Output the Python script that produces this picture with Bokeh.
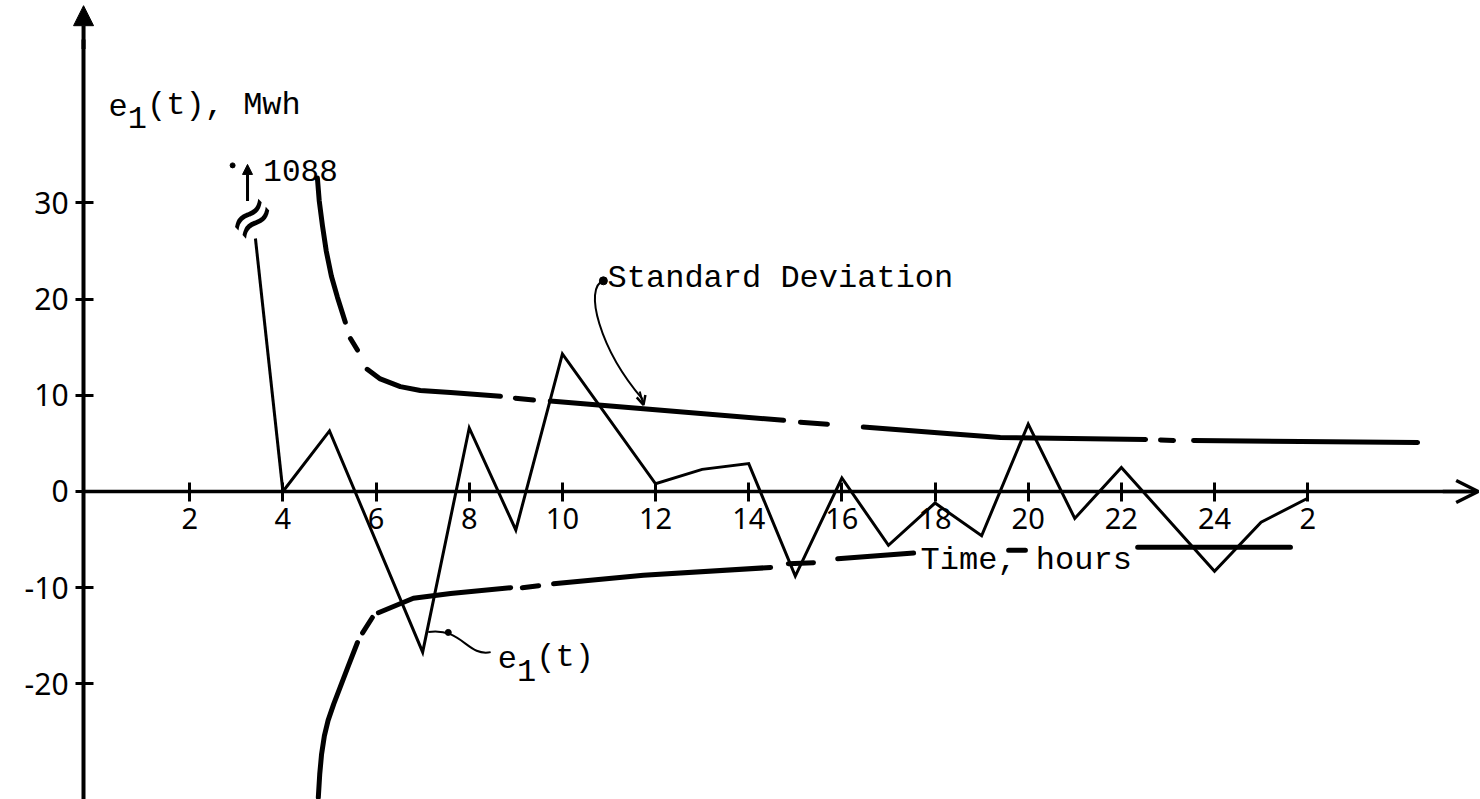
import math
from bokeh.plotting import figure
from bokeh.models import Range1d, FixedTicker, Arrow, NormalHead, OpenHead
from bokeh.core.properties import value
from bokeh.embed import file_html
from bokeh.resources import INLINE

nan = float("nan")

# ---------------- data ----------------
# e1(t): error in Mwh at each hour (the hour-3 value, 1088, is off scale)
e1_hours = [4, 5, 7, 8, 9, 10, 12, 13, 14, 15, 16, 17, 18, 19, 20, 21, 22, 24, 25, 26]
e1_mwh = [0.0, 6.3, -16.7, 6.6, -4.0, 14.3, 0.8, 2.3, 2.9, -8.8, 1.4, -5.6,
          -1.2, -4.6, 7.0, -2.8, 2.5, -8.3, -3.2, -0.7]
e1_offscale_label = "1088"

# standard deviation band: hand-drawn pen strokes, separated by NaN (pen lifts)
sd_upper_hours = [4.74, 4.78, 4.85, 4.93, 5.04, 5.17, 5.34, nan, 5.45, 5.60, nan,
                  5.81, 6.09, 6.52, 6.95, 7.60, 8.67, nan, 8.99, 9.38, nan,
                  9.74, 11.74, 14.75, nan, 15.11, 15.69, nan,
                  16.46, 18.33, 19.40, 22.52, nan, 22.84, 23.12, nan,
                  23.55, 25.85, 28.36]
sd_upper_mwh = [32.6, 30.2, 27.6, 25.0, 22.4, 20.2, 17.6, nan, 15.9, 14.7, nan,
                12.7, 11.7, 10.9, 10.5, 10.3, 9.9, nan, 9.7, 9.5, nan,
                9.4, 8.6, 7.4, nan, 7.2, 7.0, nan,
                6.7, 6.0, 5.6, 5.4, nan, 5.35, 5.3, nan,
                5.3, 5.2, 5.1]

sd_lower_hours = [4.76, 4.79, 4.83, 4.89, 4.97, 5.09, 5.24, 5.39, 5.60, nan, 5.71, 5.92, nan,
                  6.05, 6.80, 7.60, 8.89, nan, 9.14, 9.49, nan,
                  9.81, 11.74, 14.47, nan, 14.85, 15.39, nan,
                  15.91, 17.54, nan, 19.58, 19.94, nan, 22.35, 25.63]
sd_lower_mwh = [-31.8, -29.4, -27.3, -25.4, -23.8, -22.1, -20.2, -18.3, -15.7, nan, -14.7, -13.1, nan,
                -12.6, -11.1, -10.6, -10.0, nan, -10.0, -9.8, nan,
                -9.6, -8.7, -7.9, nan, -7.5, -7.4, nan,
                -7.0, -6.4, nan, -6.1, -6.1, nan, -5.8, -5.8]

# axis ticks
x_ticks = [2, 4, 6, 8, 10, 12, 14, 16, 18, 20, 22, 24, 26]
x_tick_labels = ["2", "4", "6", "8", "10", "12", "14", "16", "18", "20", "22", "24", "2"]
y_ticks = [-20, -10, 0, 10, 20, 30]
y_tick_labels = ["-20", "-10", "0", "10", "20", "30"]

# ---------------- layout / styling ----------------
X_LO, X_HI = -2.063, 29.710
Y_LO, Y_HI = -32.02, 51.04
Y_AXIS_AT = -0.28
TYPE_FONT = value("Liberation Mono")

p = figure(width=1480, height=799,
           x_range=Range1d(X_LO, X_HI), y_range=Range1d(Y_LO, Y_HI),
           output_backend="svg", toolbar_location=None, min_border=0)
p.grid.visible = False
p.outline_line_color = None
p.background_fill_color = "white"
p.border_fill_color = "white"

xa = p.xaxis[0]
xa.fixed_location = 0
xa.ticker = FixedTicker(ticks=x_ticks)
xa.major_label_overrides = {t: l for t, l in zip(x_ticks, x_tick_labels)}
xa.bounds = (Y_AXIS_AT, 29.5)
xa.axis_line_width = 3.5
xa.axis_line_color = "black"
xa.major_tick_line_width = 3
xa.major_tick_line_color = "black"
xa.major_tick_in = 9
xa.major_tick_out = 10
xa.minor_tick_line_color = None
xa.major_label_text_font = "Noto Sans"
xa.major_label_text_font_size = "29px"
xa.major_label_text_color = "black"
xa.major_label_standoff = 7

ya = p.yaxis[0]
ya.fixed_location = Y_AXIS_AT
ya.ticker = FixedTicker(ticks=y_ticks)
ya.major_label_overrides = {t: l for t, l in zip(y_ticks, y_tick_labels)}
ya.bounds = (Y_LO, 47)
ya.axis_line_width = 4
ya.axis_line_color = "black"
ya.major_tick_line_width = 3
ya.major_tick_line_color = "black"
ya.major_tick_in = 10
ya.major_tick_out = 8
ya.minor_tick_line_color = None
ya.major_label_text_font = "Noto Sans"
ya.major_label_text_font_size = "30px"
ya.major_label_text_color = "black"
ya.major_label_standoff = 7

# axis arrow heads
p.add_layout(Arrow(end=NormalHead(size=20, fill_color="black", line_color="black"),
                   x_start=Y_AXIS_AT, y_start=46, x_end=Y_AXIS_AT, y_end=50.5,
                   line_width=4, line_color="black"))
p.add_layout(Arrow(end=OpenHead(size=22, line_width=3.5, line_color="black"),
                   x_start=28.9, y_start=0, x_end=29.66, y_end=0,
                   line_width=3.5, line_color="black"))

# standard deviation band
p.line(sd_upper_hours, sd_upper_mwh, line_width=5, line_color="black",
       line_cap="round", line_join="round")
p.line(sd_lower_hours, sd_lower_mwh, line_width=5, line_color="black",
       line_cap="round", line_join="round")

# e1(t) series
p.line(e1_hours, e1_mwh, line_width=3, line_color="black", line_join="miter")
# off-scale first segment, broken
BREAK_T, BREAK_V = 3.41, 26.3
p.segment(x0=[e1_hours[0]], y0=[e1_mwh[0]], x1=[BREAK_T], y1=[BREAK_V],
          line_width=3, line_color="black")
p.text(x=[3.31], y=[28.5], text=["\u2248"], angle=0.75,
       text_font=value("DejaVu Sans"), text_font_size="58px",
       text_align="center", text_baseline="middle", text_color="black")
p.add_layout(Arrow(end=NormalHead(size=10, fill_color="black", line_color="black"),
                   x_start=3.24, y_start=30.2, x_end=3.24, y_end=34.0,
                   line_width=3, line_color="black"))
p.scatter(x=[2.92], y=[33.9], size=5, color="black")
p.text(x=[3.58], y=[33.37], text=[e1_offscale_label], text_font=TYPE_FONT,
       text_font_size="31px", text_baseline="alphabetic", text_align="left",
       text_color="black")

# y-axis title  e1(t), Mwh
p.text(x=[0.256, 0.256, 0.256], y=[40.12, 40.12, 40.12], text=["e", "1", "(t), Mwh"],
       x_offset=[0, 19.3, 38.6], y_offset=[0, 12, 0],
       text_font=TYPE_FONT, text_font_size="32px", text_baseline="alphabetic",
       text_align="left", text_color="black")

# Standard Deviation label with leader
p.text(x=[10.97], y=[22.14], text=["Standard Deviation"], text_font=TYPE_FONT,
       text_font_size="32px", text_baseline="alphabetic", text_align="left",
       text_color="black")
p.bezier(x0=[10.88], y0=[21.9], cx0=[10.45], cy0=[21.2], cx1=[10.8], cy1=[14.8],
         x1=[11.72], y1=[9.6], line_width=2, line_color="black")
p.scatter(x=[10.88], y=[21.9], size=8, color="black")
p.add_layout(Arrow(end=OpenHead(size=9, line_width=2.5, line_color="black"),
                   x_start=11.66, y_start=10.4, x_end=11.74, y_end=9.0,
                   line_width=2, line_color="black"))

# e1(t) label with leader
p.bezier(x0=[7.12], y0=[-14.6], cx0=[7.85], cy0=[-14.1], cx1=[7.95], cy1=[-17.2],
         x1=[8.46], y1=[-16.7], line_width=2, line_color="black")
p.scatter(x=[7.55], y=[-14.65], size=6, color="black")
p.text(x=[8.61, 8.61, 8.61], y=[-17.26, -17.26, -17.26], text=["e", "1", "(t)"],
       x_offset=[0, 19.3, 38.6], y_offset=[0, 13, 0],
       text_font=TYPE_FONT, text_font_size="32px", text_baseline="alphabetic",
       text_align="left", text_color="black")

# x-axis title
p.text(x=[17.69], y=[-7.17], text=["Time, hours"], text_font=TYPE_FONT,
       text_font_size="32px", text_baseline="alphabetic", text_align="left",
       text_color="black")

open("out.html", "w").write(file_html(p, INLINE))
